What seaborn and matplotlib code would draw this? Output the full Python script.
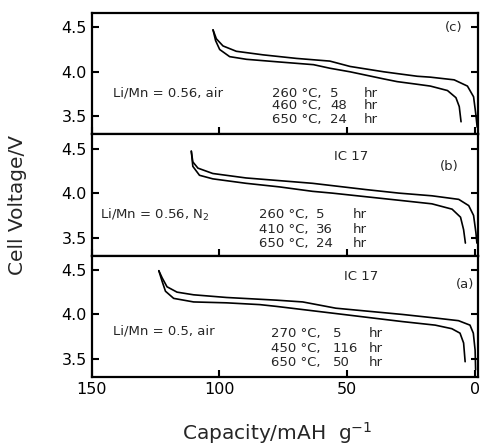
import pandas as pd
import seaborn as sns
import matplotlib.pyplot as plt

# Discharge curves (capacity in mAh/g, voltage in V)
# panel (c): Li/Mn = 0.56, air
cap_c_up = [102.5, 101.2, 98.6, 93.4, 82.9, 69.8, 56.8, 48.9, 35.7, 30.5, 22.6, 17.5, 8.2, 3.0, 0.6, -0.3, -0.8]
volt_c_up = [4.47, 4.37, 4.29, 4.23, 4.19, 4.15, 4.12, 4.06, 4.00, 3.98, 3.95, 3.94, 3.91, 3.84, 3.72, 3.52, 3.38]
cap_c_lo = [102.5, 101.5, 99.9, 96.0, 89.4, 76.5, 63.2, 56.8, 48.9, 35.7, 30.5, 22.6, 17.5, 10.8, 7.5, 6.2, 5.5]
volt_c_lo = [4.47, 4.35, 4.25, 4.17, 4.14, 4.11, 4.08, 4.04, 4.00, 3.92, 3.89, 3.86, 3.84, 3.79, 3.71, 3.61, 3.44]

# panel (b): Li/Mn = 0.56, N2
cap_b_up = [111.0, 110.4, 108.4, 102.6, 89.6, 76.6, 63.6, 42.8, 29.8, 16.9, 6.4, 2.5, 0.6, -0.3, -0.7]
volt_b_up = [4.47, 4.35, 4.28, 4.22, 4.17, 4.14, 4.11, 4.04, 4.00, 3.97, 3.93, 3.86, 3.75, 3.56, 3.44]
cap_b_lo = [111.0, 110.4, 107.8, 102.6, 89.6, 76.6, 63.6, 55.9, 29.8, 16.9, 9.0, 5.7, 4.5, 3.8]
volt_b_lo = [4.47, 4.30, 4.20, 4.16, 4.11, 4.07, 4.02, 4.00, 3.92, 3.88, 3.82, 3.73, 3.59, 3.44]

# panel (a): Li/Mn = 0.5, air
cap_a_up = [123.7, 122.4, 120.5, 116.6, 110.1, 97.2, 84.2, 77.7, 67.4, 54.5, 28.5, 15.6, 6.5, 2.0, 0.7, 0.0, -0.2]
volt_a_up = [4.49, 4.41, 4.31, 4.25, 4.22, 4.19, 4.17, 4.16, 4.14, 4.07, 4.00, 3.96, 3.93, 3.88, 3.79, 3.60, 3.38]
cap_a_lo = [123.7, 122.4, 121.1, 117.9, 110.1, 97.2, 84.2, 77.7, 54.5, 28.5, 15.6, 9.1, 5.9, 4.5, 3.9]
volt_a_lo = [4.49, 4.37, 4.26, 4.18, 4.14, 4.13, 4.11, 4.09, 4.01, 3.92, 3.88, 3.84, 3.79, 3.68, 3.47]

panel_tags = ["(c)", "(b)", "(a)"]
sample_labels = ["Li/Mn = 0.56, air", "Li/Mn = 0.56, N$_2$", "Li/Mn = 0.5, air"]
step_temps = [["260 \u00b0C,", "460 \u00b0C,", "650 \u00b0C,"],
              ["260 \u00b0C,", "410 \u00b0C,", "650 \u00b0C,"],
              ["270 \u00b0C,", "450 \u00b0C,", "650 \u00b0C,"]]
step_hours = [["5", "48", "24"], ["5", "36", "24"], ["5", "116", "50"]]

sns.set_theme(style="ticks")
plt.rcParams["font.family"] = ["DejaVu Sans"]
plt.rcParams["mathtext.fontset"] = "dejavusans"

fig, axes = plt.subplots(3, 1, figsize=(4.82, 4.46), dpi=100, sharex=True)
fig.subplots_adjust(left=0.19, right=0.991, top=0.971, bottom=0.155, hspace=0)

curves = [
    (cap_c_up, volt_c_up, cap_c_lo, volt_c_lo),
    (cap_b_up, volt_b_up, cap_b_lo, volt_b_lo),
    (cap_a_up, volt_a_up, cap_a_lo, volt_a_lo),
]

# text placement per panel (data coords)
label_xy = [(141.7, 3.76), (146.8, 3.76), (141.8, 3.81)]
col_x = [(79.6, 56.8, 43.6), (84.4, 62.3, 48.0), (79.7, 55.7, 41.5)]
row_y = [[3.76, 3.62, 3.47], [3.76, 3.59, 3.44], [3.79, 3.62, 3.46]]
fs = 9.5

for i, ax in enumerate(axes):
    cu, vu, cl, vl = curves[i]
    df = pd.concat([
        pd.DataFrame({"cap": cu, "volt": vu, "run": "up"}),
        pd.DataFrame({"cap": cl, "volt": vl, "run": "lo"}),
    ])
    sns.lineplot(data=df, x="cap", y="volt", units="run", estimator=None,
                 sort=False, color="black", lw=1.2, ax=ax)
    ax.set_xlim(150, -1)
    ax.set_ylim(3.3, 4.66)
    ax.set_yticks([3.5, 4.0, 4.5])
    ax.set_xticks([150, 100, 50, 0])
    ax.set_xlabel("")
    ax.set_ylabel("")
    ax.tick_params(axis="both", direction="in", length=5, width=1.5,
                   labelsize=11.5, right=True, colors="black")
    for s in ax.spines.values():
        s.set_linewidth(1.6)
        s.set_color("black")

    ax.text(*label_xy[i], sample_labels[i], fontsize=fs, va="center")
    xt, xn, xh = col_x[i]
    for t, h, y in zip(step_temps[i], step_hours[i], row_y[i]):
        ax.text(xt, y, t, fontsize=fs, va="center")
        ax.text(xn, y, h, fontsize=fs, va="center")
        ax.text(xh, y, "hr", fontsize=fs, va="center")

axes[0].text(8.2, 4.50, panel_tags[0], fontsize=fs, ha="center", va="center")
axes[1].text(48.6, 4.41, "IC 17", fontsize=fs, ha="center", va="center")
axes[1].text(10.3, 4.30, panel_tags[1], fontsize=fs, ha="center", va="center")
axes[2].text(44.7, 4.42, "IC 17", fontsize=fs, ha="center", va="center")
axes[2].text(3.9, 4.34, panel_tags[2], fontsize=fs, ha="center", va="center")

fig.text(0.037, 0.54, "Cell Voltage/V", rotation=90, fontsize=14.5,
         ha="center", va="center")
fig.text(0.576, 0.029, "Capacity/mAH  g$^{-1}$", fontsize=14.5,
         ha="center", va="center")

plt.savefig("out.png", dpi=100)
plt.close()
